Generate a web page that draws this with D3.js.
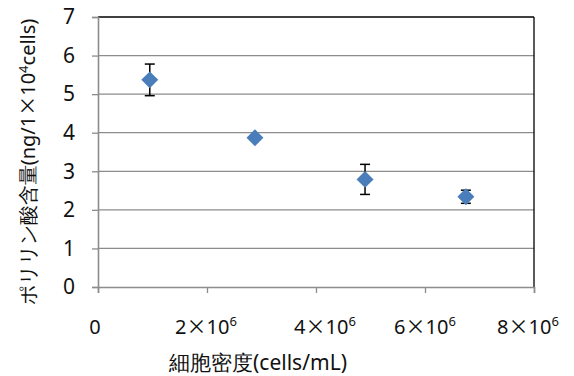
<!DOCTYPE html>
<html><head><meta charset="utf-8">
<script src="https://cdn.jsdelivr.net/npm/d3@7/dist/d3.min.js"></script>
<style>body{margin:0;background:#fff}svg{display:block}</style>
</head><body>
<svg id="c" width="574" height="376"></svg>
<script>
const xValues = [0.95e6, 2.88e6, 4.90e6, 6.75e6];
const yValues = [5.37, 3.87, 2.79, 2.34];
const yErrors = [0.41, 0.03, 0.39, 0.17];
const yTicks = [0,1,2,3,4,5,6,7];
const xTicks = [0, 2e6, 4e6, 6e6, 8e6];
const xTickMantissa = ["0", "2", "4", "6", "8"];
const xTickLabelOffsets = [-3, -1, 9, 0, -6];

const svg = d3.select("#c");
const font = "'Noto Sans','Liberation Sans',sans-serif";
const cjk = "'Noto Sans CJK JP',sans-serif";
const L = 98, R = 534, T = 17, B = 287;
const x = d3.scaleLinear().domain([0, 8e6]).range([L, R]);
const y = d3.scaleLinear().domain([0, 7]).range([B, T]);

// gridlines
svg.append("g").selectAll("line").data(yTicks.filter(d => d > 0 && d < 7)).join("line")
  .attr("x1", L).attr("x2", R).attr("y1", d => y(d)).attr("y2", d => y(d))
  .attr("stroke", "#8c8c8c").attr("stroke-width", 1.3);
// top & right border
svg.append("line").attr("x1", L).attr("x2", R).attr("y1", y(7)).attr("y2", y(7)).attr("stroke", "#000").attr("stroke-width", 1.3);
svg.append("line").attr("x1", R).attr("x2", R).attr("y1", T).attr("y2", B).attr("stroke", "#000").attr("stroke-width", 1.3);

// y axis
const yAxis = svg.append("g").attr("transform", `translate(${L},0)`)
  .call(d3.axisLeft(y).tickValues(yTicks).tickSize(6).tickPadding(17).tickFormat(d3.format("d")));
yAxis.select(".domain").attr("stroke", "#8c8c8c").attr("stroke-width", 1.6);
yAxis.selectAll(".tick line").attr("stroke", "#8c8c8c").attr("stroke-width", 1.3);
yAxis.selectAll(".tick text").attr("font-family", font).attr("font-size", 21).attr("fill", "#111");

// x axis
const xAxis = svg.append("g").attr("transform", `translate(0,${B})`)
  .call(d3.axisBottom(x).tickValues(xTicks).tickSize(6).tickFormat(""));
xAxis.select(".domain").attr("stroke", "#8c8c8c").attr("stroke-width", 1.6);
xAxis.selectAll(".tick line").attr("stroke", "#8c8c8c").attr("stroke-width", 1.3);

const xl = svg.append("g").selectAll("text").data(xTicks).join("text")
  .attr("x", (d, i) => x(d) + xTickLabelOffsets[i]).attr("y", 334)
  .attr("text-anchor", "middle").attr("font-family", font).attr("font-size", 20).attr("fill", "#111");
xl.each(function(d, i) {
  const t = d3.select(this);
  if (d === 0) { t.text("0"); return; }
  t.append("tspan").text(xTickMantissa[i]);
  t.append("tspan").attr("font-family", cjk).text("\u00d7");
  t.append("tspan").text("10");
  t.append("tspan").attr("dy", -8).attr("font-size", 13).text("6");
});

// axis titles
svg.append("text").attr("x", 258).attr("y", 370).attr("text-anchor", "middle")
  .attr("font-family", font).attr("font-size", 21).attr("fill", "#111").text("細胞密度(cells/mL)");
const yt = svg.append("text").attr("transform", "translate(35,162) rotate(-90)").attr("text-anchor", "middle")
  .attr("font-family", font).attr("font-size", 20).attr("fill", "#111");
yt.append("tspan").text("ポリリン酸含量(ng/1");
yt.append("tspan").attr("font-family", cjk).text("\u00d7");
yt.append("tspan").text("10");
yt.append("tspan").attr("dy", -7).attr("font-size", 13).text("4");
yt.append("tspan").attr("dy", 7).text("cells)");

// error bars
const eb = svg.append("g").attr("stroke", "#000").attr("stroke-width", 1.5);
xValues.forEach((xv, i) => {
  const cx = x(xv), y1 = y(yValues[i] + yErrors[i]), y0 = y(yValues[i] - yErrors[i]);
  eb.append("line").attr("x1", cx).attr("x2", cx).attr("y1", y1).attr("y2", y0);
  eb.append("line").attr("x1", cx - 5).attr("x2", cx + 5).attr("y1", y1).attr("y2", y1);
  eb.append("line").attr("x1", cx - 5).attr("x2", cx + 5).attr("y1", y0).attr("y2", y0);
});

// markers
svg.append("g").selectAll("path").data(xValues).join("path")
  .attr("transform", (d, i) => `translate(${x(d)},${y(yValues[i])}) rotate(45)`)
  .attr("d", d3.symbol().type(d3.symbolSquare).size(144))
  .attr("fill", "#4a7ebb");
</script>
</body></html>
